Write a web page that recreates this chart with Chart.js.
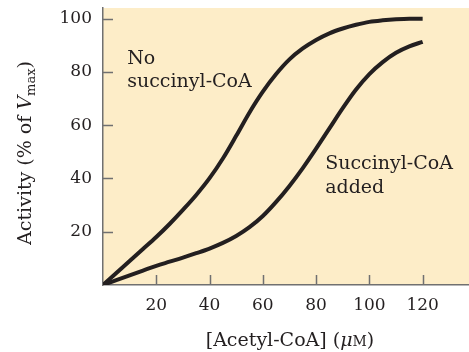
<!DOCTYPE html>
<html>
<head>
<meta charset="utf-8">
<script src="https://cdn.jsdelivr.net/npm/chart.js@4/dist/chart.umd.min.js"></script>
<style>
html,body{margin:0;padding:0;background:#fff;}
#wrap{width:469px;height:352px;position:relative;}
</style>
</head>
<body>
<div id="wrap"><canvas id="c" width="469" height="352"></canvas></div>
<script>
// ---- data ----
const acetylCoA = [0, 5, 10, 15, 20, 25, 30, 35, 40, 45, 50, 55, 60, 65, 70, 75, 80, 85, 90, 95, 100, 105, 110, 115, 120];
const noSuccinyl = [0, 4.5, 9, 13.5, 18, 22.9, 28.2, 33.8, 40.1, 47.5, 56, 64.8, 72.6, 79.2, 84.7, 88.8, 92, 94.5, 96.3, 97.7, 98.8, 99.4, 99.8, 100, 100];
const succinylAdded = [0, 1.8, 3.6, 5.4, 7.2, 8.75, 10.3, 11.95, 13.7, 15.8, 18.4, 21.7, 25.9, 31.2, 37.2, 43.9, 51.2, 58.8, 66.4, 73.4, 79.2, 83.7, 87.2, 89.6, 91.3];
const xTickValues = [20, 40, 60, 80, 100, 120];
const yTickValues = [20, 40, 60, 80, 100];
const xAxisTitle = "[Acetyl-CoA]";
const yAxisTitle = "Activity (% of ";
const labelNo = ["No", "succinyl-CoA"];
const labelAdded = ["Succinyl-CoA", "added"];

const SERIF = '"DejaVu Serif", "Liberation Serif", serif';
const INK = '#231f20';
const AXIS = '#707070';

const bgPlugin = {
  id: 'bg',
  beforeDraw(chart) {
    const {ctx, chartArea: a} = chart;
    ctx.save();
    ctx.fillStyle = '#fdedc8';
    ctx.fillRect(a.left, a.top, a.right - a.left, a.bottom - a.top);
    ctx.restore();
  }
};

const decoPlugin = {
  id: 'deco',
  afterDatasetsDraw(chart) {
    const {ctx, chartArea: a, scales} = chart;
    const xs = scales.x, ys = scales.y;
    ctx.save();
    // inner ticks
    ctx.strokeStyle = AXIS;
    ctx.lineWidth = 1.5;
    ctx.beginPath();
    xTickValues.forEach(v => {
      const px = Math.round(xs.getPixelForValue(v)) + 0.5;
      ctx.moveTo(px, a.bottom);
      ctx.lineTo(px, a.bottom - 10);
    });
    yTickValues.forEach(v => {
      const py = Math.round(ys.getPixelForValue(v)) + 0.5;
      ctx.moveTo(a.left, py);
      ctx.lineTo(a.left + 10, py);
    });
    ctx.stroke();

    // annotations
    ctx.fillStyle = INK;
    ctx.font = '19px ' + SERIF;
    ctx.textAlign = 'left';
    ctx.textBaseline = 'alphabetic';
    let x0 = xs.getPixelForValue(9.1), y0 = ys.getPixelForValue(82.9);
    ctx.fillText(labelNo[0], x0, y0);
    ctx.fillText(labelNo[1], x0, y0 + 23);
    let x1 = xs.getPixelForValue(83.4), y1 = ys.getPixelForValue(43.4);
    ctx.fillText(labelAdded[0], x1, y1);
    ctx.fillText(labelAdded[1], x1, y1 + 23.5);

    // x axis title
    const F = 19;
    ctx.font = F + 'px ' + SERIF;
    const cx = 290, by = 346;
    const part1 = xAxisTitle + ' (';
    const w1 = ctx.measureText(part1).width;
    ctx.font = 'italic ' + F + 'px ' + SERIF;
    const wmu = ctx.measureText('\u03bc').width;
    ctx.font = '14px ' + SERIF;
    const wM = ctx.measureText('M').width;
    ctx.font = F + 'px ' + SERIF;
    const wp = ctx.measureText(')').width;
    let total = w1 + wmu + wM + wp;
    let sx = cx - total / 2;
    ctx.fillText(part1, sx, by); sx += w1;
    ctx.font = 'italic ' + F + 'px ' + SERIF;
    ctx.fillText('\u03bc', sx, by); sx += wmu;
    ctx.font = '14px ' + SERIF;
    ctx.fillText('M', sx, by); sx += wM;
    ctx.font = F + 'px ' + SERIF;
    ctx.fillText(')', sx, by);

    // y axis title (rotated)
    ctx.translate(31, 153);
    ctx.rotate(-Math.PI / 2);
    ctx.font = F + 'px ' + SERIF;
    const ya = ctx.measureText(yAxisTitle).width;
    ctx.font = 'italic ' + F + 'px ' + SERIF;
    const yv = ctx.measureText('V').width;
    ctx.font = '13px ' + SERIF;
    const ym = ctx.measureText('max').width;
    ctx.font = F + 'px ' + SERIF;
    const yp = ctx.measureText(')').width;
    let t = ya + yv + ym + yp;
    let s = -t / 2;
    ctx.fillText(yAxisTitle, s, 0); s += ya;
    ctx.font = 'italic ' + F + 'px ' + SERIF;
    ctx.fillText('V', s, 0); s += yv;
    ctx.font = '13px ' + SERIF;
    ctx.fillText('max', s, 4); s += ym;
    ctx.font = F + 'px ' + SERIF;
    ctx.fillText(')', s, 0);
    ctx.restore();
  }
};

new Chart(document.getElementById('c'), {
  type: 'line',
  data: {
    datasets: [
      {
        label: 'No succinyl-CoA',
        data: acetylCoA.map((x, i) => ({x, y: noSuccinyl[i]})),
        borderColor: INK, borderWidth: 4, pointRadius: 0,
        cubicInterpolationMode: 'monotone', fill: false
      },
      {
        label: 'Succinyl-CoA added',
        data: acetylCoA.map((x, i) => ({x, y: succinylAdded[i]})),
        borderColor: INK, borderWidth: 4, pointRadius: 0,
        cubicInterpolationMode: 'monotone', fill: false
      }
    ]
  },
  options: {
    responsive: false,
    animation: false,
    devicePixelRatio: 1,
    layout: {padding: {top: 8, right: 0, left: 0, bottom: 0}},
    plugins: {legend: {display: false}, tooltip: {enabled: false}},
    scales: {
      x: {
        type: 'linear', min: 0, max: 137.4,
        afterBuildTicks: s => { s.ticks = xTickValues.map(v => ({value: v})); },
        afterFit: s => { s.height = 67; s.paddingLeft = 0; s.paddingRight = 0; },
        grid: {display: false, drawTicks: false},
        border: {display: true, color: AXIS, width: 1.5},
        ticks: {color: INK, font: {family: SERIF, size: 17}, padding: 10, maxRotation: 0, autoSkip: false}
      },
      y: {
        type: 'linear', min: 0, max: 104,
        afterBuildTicks: s => { s.ticks = yTickValues.map(v => ({value: v})); },
        afterFit: s => { s.width = 103; s.paddingTop = 0; s.paddingBottom = 0; },
        grid: {display: false, drawTicks: false},
        border: {display: true, color: AXIS, width: 1.5},
        ticks: {color: INK, font: {family: SERIF, size: 17}, padding: 11, autoSkip: false}
      }
    }
  },
  plugins: [bgPlugin, decoPlugin]
});
</script>
</body>
</html>
